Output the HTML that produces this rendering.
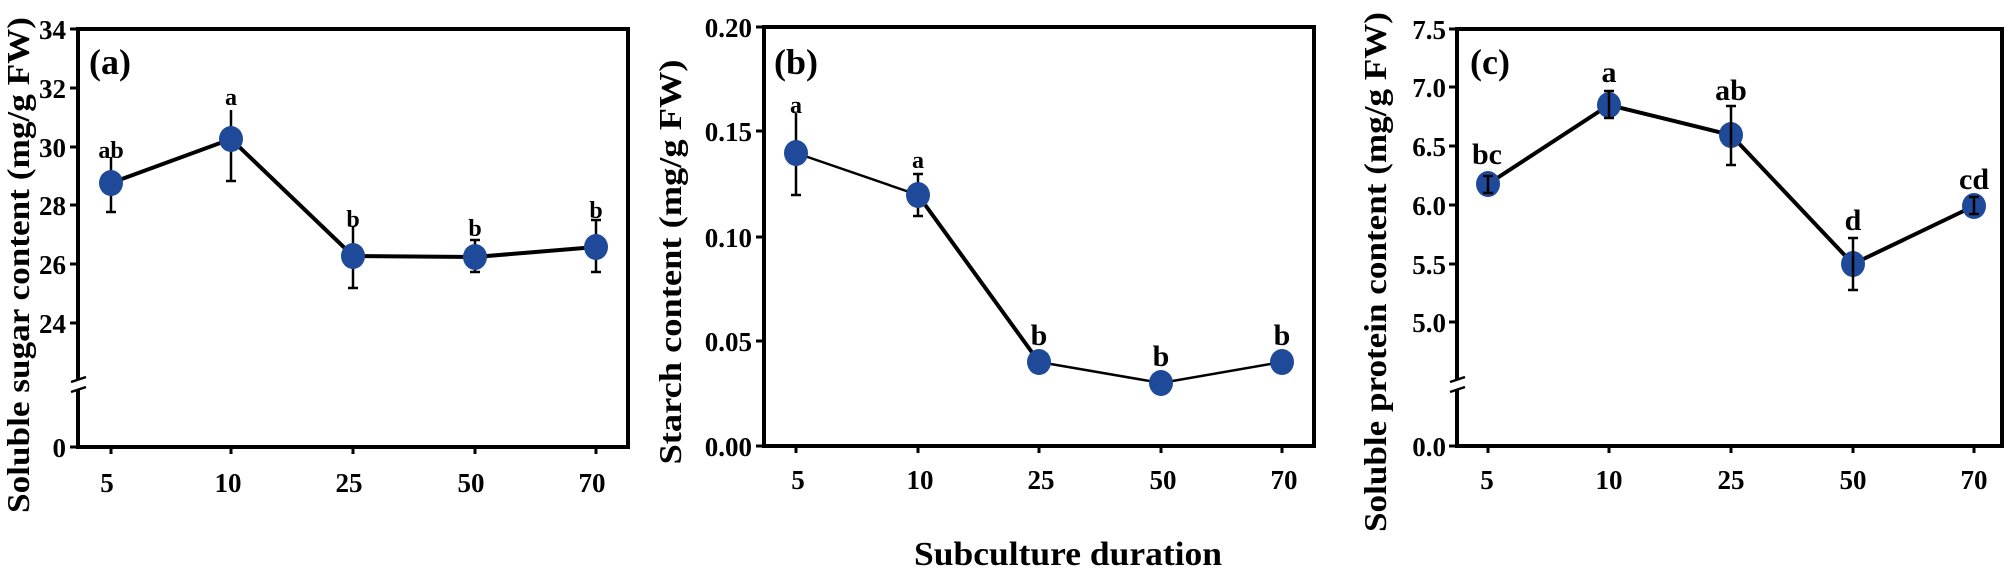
<!DOCTYPE html>
<html><head><meta charset="utf-8"><style>
html,body{margin:0;padding:0;background:#fff;}
svg{display:block;}
text{font-family:"Liberation Serif",serif;font-weight:bold;fill:#000;}
</style></head><body>
<svg width="2008" height="569" viewBox="0 0 2008 569" xmlns="http://www.w3.org/2000/svg">
<!-- Panel a -->
<g>
<rect x="78" y="29" width="550" height="418" fill="none" stroke="#000" stroke-width="4"/>
<g stroke="#000" stroke-width="3">
<line x1="70" y1="29" x2="78" y2="29"/><line x1="70" y1="88" x2="78" y2="88"/><line x1="70" y1="147" x2="78" y2="147"/><line x1="70" y1="205" x2="78" y2="205"/><line x1="70" y1="264" x2="78" y2="264"/><line x1="70" y1="323" x2="78" y2="323"/><line x1="70" y1="447" x2="78" y2="447"/>
<line x1="111" y1="447" x2="111" y2="454"/><line x1="231" y1="447" x2="231" y2="454"/><line x1="353" y1="447" x2="353" y2="454"/><line x1="475" y1="447" x2="475" y2="454"/><line x1="596" y1="447" x2="596" y2="454"/>
</g>
<line x1="78" y1="380" x2="78" y2="390" stroke="#fff" stroke-width="6"/>
<line x1="71" y1="382" x2="86" y2="377" stroke="#000" stroke-width="2.5"/><line x1="71" y1="392" x2="86" y2="387" stroke="#000" stroke-width="2.5"/>
<g font-size="27" text-anchor="end">
<text x="66" y="39">34</text><text x="66" y="98">32</text><text x="66" y="157">30</text><text x="66" y="215">28</text><text x="66" y="274">26</text><text x="66" y="333">24</text><text x="66" y="457">0</text>
</g>
<g font-size="27" text-anchor="middle">
<text x="107" y="492">5</text><text x="228" y="492">10</text><text x="349" y="492">25</text><text x="471" y="492">50</text><text x="592" y="492">70</text>
</g>
<text transform="translate(29,265) rotate(-90)" font-size="32" text-anchor="middle" textLength="496" lengthAdjust="spacingAndGlyphs">Soluble sugar content (mg/g FW)</text>
<text x="89" y="74" font-size="36">(a)</text>
<g stroke="#000" stroke-width="2.5">
<line x1="111" y1="212" x2="111" y2="157"/><line x1="106" y1="212" x2="116" y2="212"/>
<line x1="231" y1="181" x2="231" y2="110"/><line x1="226" y1="181" x2="236" y2="181"/>
<line x1="353" y1="288" x2="353" y2="226"/><line x1="348" y1="288" x2="358" y2="288"/>
<line x1="475" y1="272" x2="475" y2="240"/><line x1="470" y1="272" x2="480" y2="272"/><line x1="470" y1="240" x2="480" y2="240"/>
<line x1="596" y1="272" x2="596" y2="220"/><line x1="591" y1="272" x2="601" y2="272"/><line x1="591" y1="220" x2="601" y2="220"/>
</g>
<polyline points="111,183 231,139 353,256 475,257 596,247" fill="none" stroke="#000" stroke-width="4"/>
<g fill="#1f4a9a"><ellipse cx="111" cy="183" rx="12" ry="13"/><ellipse cx="231" cy="139" rx="12" ry="13"/><ellipse cx="353" cy="256" rx="12" ry="13"/><ellipse cx="475" cy="257" rx="12" ry="13"/><ellipse cx="596" cy="247" rx="12" ry="13"/></g>
<g font-size="24" text-anchor="middle">
<text x="111" y="158">ab</text><text x="231" y="105">a</text><text x="353" y="227">b</text><text x="475" y="236">b</text><text x="596" y="218">b</text>
</g>
</g>
<!-- Panel b -->
<g>
<rect x="764" y="27" width="550" height="419" fill="none" stroke="#000" stroke-width="4"/>
<g stroke="#000" stroke-width="3">
<line x1="756" y1="27" x2="764" y2="27"/><line x1="756" y1="131" x2="764" y2="131"/><line x1="756" y1="237" x2="764" y2="237"/><line x1="756" y1="341" x2="764" y2="341"/><line x1="756" y1="446" x2="764" y2="446"/>
<line x1="796" y1="446" x2="796" y2="453"/><line x1="918" y1="446" x2="918" y2="453"/><line x1="1039" y1="446" x2="1039" y2="453"/><line x1="1161" y1="446" x2="1161" y2="453"/><line x1="1282" y1="446" x2="1282" y2="453"/>
</g>
<g font-size="27" text-anchor="end">
<text x="752" y="37">0.20</text><text x="752" y="141">0.15</text><text x="752" y="247">0.10</text><text x="752" y="351">0.05</text><text x="752" y="456">0.00</text>
</g>
<g font-size="27" text-anchor="middle">
<text x="798" y="489">5</text><text x="920" y="489">10</text><text x="1041" y="489">25</text><text x="1163" y="489">50</text><text x="1284" y="489">70</text>
</g>
<text transform="translate(681,262) rotate(-90)" font-size="32" text-anchor="middle" textLength="405" lengthAdjust="spacingAndGlyphs">Starch  content (mg/g FW)</text>
<text x="1068" y="565" font-size="34" text-anchor="middle" textLength="308" lengthAdjust="spacingAndGlyphs">Subculture duration</text>
<text x="774" y="74" font-size="36">(b)</text>
<g stroke="#000" stroke-width="2.5">
<line x1="796" y1="195" x2="796" y2="113"/><line x1="791" y1="195" x2="801" y2="195"/>
<line x1="918" y1="216" x2="918" y2="174"/><line x1="913" y1="216" x2="923" y2="216"/><line x1="913" y1="174" x2="923" y2="174"/>
</g>
<polyline points="796,153 918,195 1039,362 1161,383 1282,362" fill="none" stroke="#000" stroke-width="2.5"/>
<line x1="918" y1="195" x2="1039" y2="362" stroke="#000" stroke-width="4"/>
<g fill="#1f4a9a"><ellipse cx="796" cy="153" rx="12" ry="13"/><ellipse cx="918" cy="195" rx="12" ry="13"/><ellipse cx="1039" cy="362" rx="12" ry="13"/><ellipse cx="1161" cy="383" rx="12" ry="13"/><ellipse cx="1282" cy="362" rx="12" ry="13"/></g>
<g text-anchor="middle">
<text x="796" y="113" font-size="24">a</text><text x="918" y="168" font-size="24">a</text>
<text x="1039" y="345" font-size="30">b</text><text x="1161" y="366" font-size="30">b</text><text x="1282" y="345" font-size="30">b</text>
</g>
</g>
<!-- Panel c -->
<g>
<rect x="1457" y="29" width="545" height="417" fill="none" stroke="#000" stroke-width="4"/>
<g stroke="#000" stroke-width="3">
<line x1="1449" y1="29" x2="1457" y2="29"/><line x1="1449" y1="87" x2="1457" y2="87"/><line x1="1449" y1="146" x2="1457" y2="146"/><line x1="1449" y1="205" x2="1457" y2="205"/><line x1="1449" y1="264" x2="1457" y2="264"/><line x1="1449" y1="322" x2="1457" y2="322"/><line x1="1449" y1="446" x2="1457" y2="446"/>
<line x1="1488" y1="446" x2="1488" y2="453"/><line x1="1609" y1="446" x2="1609" y2="453"/><line x1="1731" y1="446" x2="1731" y2="453"/><line x1="1853" y1="446" x2="1853" y2="453"/><line x1="1974" y1="446" x2="1974" y2="453"/>
</g>
<line x1="1457" y1="380" x2="1457" y2="390" stroke="#fff" stroke-width="6"/>
<line x1="1450" y1="382" x2="1465" y2="377" stroke="#000" stroke-width="2.5"/><line x1="1450" y1="392" x2="1465" y2="387" stroke="#000" stroke-width="2.5"/>
<g font-size="27" text-anchor="end">
<text x="1446" y="39">7.5</text><text x="1446" y="97">7.0</text><text x="1446" y="156">6.5</text><text x="1446" y="215">6.0</text><text x="1446" y="274">5.5</text><text x="1446" y="332">5.0</text><text x="1446" y="456">0.0</text>
</g>
<g font-size="27" text-anchor="middle">
<text x="1487" y="489">5</text><text x="1609" y="489">10</text><text x="1731" y="489">25</text><text x="1853" y="489">50</text><text x="1974" y="489">70</text>
</g>
<text transform="translate(1386,272) rotate(-90)" font-size="32" text-anchor="middle" textLength="520" lengthAdjust="spacingAndGlyphs">Soluble protein content (mg/g FW)</text>
<text x="1470" y="74" font-size="36">(c)</text>
<polyline points="1488,184 1609,105 1731,135 1853,264 1974,206" fill="none" stroke="#000" stroke-width="4"/>
<g fill="#1f4a9a"><ellipse cx="1488" cy="184" rx="12" ry="13"/><ellipse cx="1609" cy="105" rx="12" ry="13"/><ellipse cx="1731" cy="135" rx="12" ry="13"/><ellipse cx="1853" cy="264" rx="12" ry="13"/><ellipse cx="1974" cy="206" rx="12" ry="13"/></g>
<g stroke="#000" stroke-width="2.5">
<line x1="1488" y1="193" x2="1488" y2="176"/><line x1="1483" y1="193" x2="1493" y2="193"/><line x1="1483" y1="176" x2="1493" y2="176"/>
<line x1="1609" y1="118" x2="1609" y2="91"/><line x1="1604" y1="118" x2="1614" y2="118"/><line x1="1604" y1="91" x2="1614" y2="91"/>
<line x1="1731" y1="165" x2="1731" y2="106"/><line x1="1726" y1="165" x2="1736" y2="165"/><line x1="1726" y1="106" x2="1736" y2="106"/>
<line x1="1853" y1="290" x2="1853" y2="238"/><line x1="1848" y1="290" x2="1858" y2="290"/><line x1="1848" y1="238" x2="1858" y2="238"/>
<line x1="1974" y1="214" x2="1974" y2="197"/><line x1="1969" y1="214" x2="1979" y2="214"/><line x1="1969" y1="197" x2="1979" y2="197"/>
</g>
<g font-size="30" text-anchor="middle">
<text x="1487" y="164">bc</text><text x="1609" y="82">a</text><text x="1731" y="100">ab</text><text x="1853" y="230">d</text><text x="1974" y="189">cd</text>
</g>
</g>
</svg>
</body></html>
